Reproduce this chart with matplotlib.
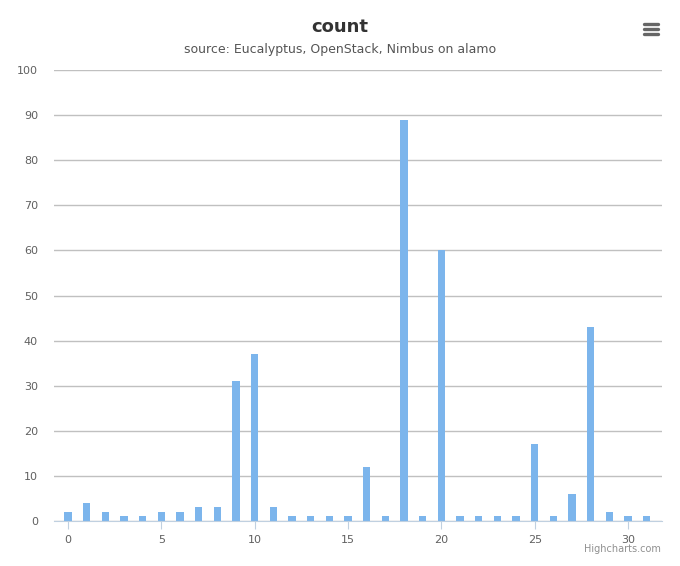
import numpy as np
import matplotlib
matplotlib.use('Agg')
import matplotlib.pyplot as plt
from matplotlib.lines import Line2D

# 数据
x_vals = list(range(32))
counts = [2, 4, 2, 1, 1, 2, 2, 3, 3, 31, 37, 3, 1, 1, 1, 1, 12, 1, 89, 1,
          60, 1, 1, 1, 1, 17, 1, 6, 43, 2, 1, 1]
y_ticks = [0, 10, 20, 30, 40, 50, 60, 70, 80, 90, 100]
x_ticks = [0, 5, 10, 15, 20, 25, 30]

plt.rcParams['font.family'] = ['DejaVu Sans']

fig = plt.figure(figsize=(6.8, 5.66), dpi=100)
ax = fig.add_axes([54 / 680, 45 / 566, 608 / 680, 451 / 566])

ax.bar(x_vals, counts, width=0.38, color='#7cb5ec', zorder=3)

ax.set_xlim(-0.75, 31.82)
ax.set_ylim(0, 100)
ax.set_yticks(y_ticks)
ax.set_xticks(x_ticks)
ax.grid(axis='y', color='#c0c0c0', linewidth=1, zorder=0)

for s in ['top', 'right', 'left']:
    ax.spines[s].set_visible(False)
ax.spines['bottom'].set_color('#c0d0e0')
ax.spines['bottom'].set_zorder(4)

ax.tick_params(axis='y', length=0, labelsize=8, labelcolor='#606060', pad=11.5)
ax.tick_params(axis='x', length=6, color='#c0d0e0', labelsize=8, labelcolor='#606060', pad=4)

# 标题
fig.text(0.5, 1 - 27 / 566, 'count', ha='center', va='center', fontsize=13,
         color='#333333', fontweight='bold')
fig.text(0.5, 1 - 50 / 566, 'source: Eucalyptus, OpenStack, Nimbus on alamo', ha='center',
         va='center', fontsize=9, color='#555555')
fig.text(661 / 680, 1 - 549 / 566, 'Highcharts.com', ha='right', va='center',
         fontsize=7, color='#909090')

# 菜单图标
for yy in [24, 29, 34]:
    fig.add_artist(Line2D([644 / 680, 658 / 680], [1 - yy / 566, 1 - yy / 566],
                          color='#666666', linewidth=2.4, solid_capstyle='round'))

plt.savefig('out.png', dpi=100)
